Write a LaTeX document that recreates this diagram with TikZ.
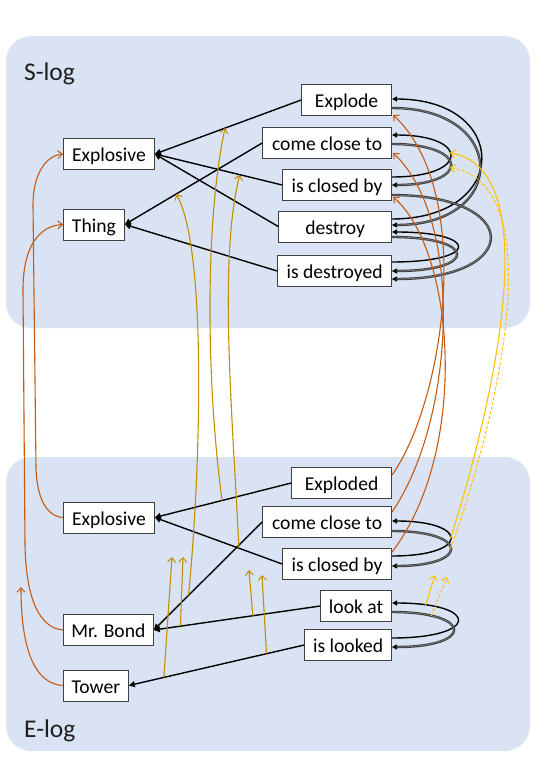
\documentclass[tikz,border=0pt]{standalone}
\usepackage{fontspec}
\setmainfont{Carlito}
\usetikzlibrary{arrows.meta,calc}
\definecolor{panel}{HTML}{DAE3F3}
\definecolor{rust}{HTML}{C55A11}
\definecolor{gold}{HTML}{BF9000}
\definecolor{amber}{HTML}{FFC000}
\begin{document}
\begin{tikzpicture}[x=1pt,y=-1pt,
  box/.style={draw=black!75,line width=0.8pt,fill=white,minimum height=31pt,inner sep=0pt,
    text height=16pt,text depth=1pt,font=\fontsize{19.6}{22}\selectfont},
  lab/.style={anchor=base west,inner sep=0pt,text=black!88,font=\fontsize{25.5}{28}\selectfont},
  edge/.style={line width=1.4pt,-{Triangle[length=6pt,width=6pt]}},
  blk/.style={line width=1.4pt,-{Triangle[length=5pt,width=5pt]}},
  gry/.style={draw=black!78,line width=2.4pt,-{Triangle[length=5pt,width=5pt,line width=0.4pt,color=black]},
    postaction={draw=black!52,line width=0.8pt,-,shorten >=4pt}},
  opentip/.style={-{Straight Barb[length=4.5pt,width=8pt,line width=1pt]}},
  rst/.style={draw=rust,line width=1.1pt,opentip},
  gld/.style={draw=gold,line width=1.1pt,opentip},
  ylw/.style={draw=amber,line width=1.1pt,opentip},
  ydash/.style={draw=amber,line width=1pt,dash pattern=on 3pt off 2pt,opentip}
]
\useasboundingbox (0,0) rectangle (545,779);
% panels
\fill[panel,rounded corners=25pt] (6,36) rectangle (530,328);
\fill[panel,rounded corners=25pt] (6,457) rectangle (530,751);
\node[lab] (slog) at (24,80) {S-log};
\node[lab] (elog) at (24,737) {E-log};

% nodes (S-log)
\node[box,minimum width=90pt,anchor=east] (sExpl) at (392,100) {Explode};
\node[box,minimum width=129pt,anchor=east] (sCct) at (392,143) {come close to};
\node[box,minimum width=109pt,anchor=east] (sIcb) at (392,185) {is closed by};
\node[box,minimum width=113pt,anchor=east] (sDes) at (392,226.5) {destroy};
\node[box,minimum width=114pt,anchor=east] (sIsd) at (392,271) {is destroyed};
\node[box,minimum width=91pt,anchor=west] (sExp) at (63,154) {Explosive};
\node[box,minimum width=61pt,anchor=west] (sThing) at (63,224.5) {Thing};
% nodes (E-log)
\node[box,minimum width=100pt,anchor=east] (eExpd) at (392,483) {Exploded};
\node[box,minimum width=129pt,anchor=east] (eCct) at (392,522) {come close to};
\node[box,minimum width=109pt,anchor=east] (eIcb) at (392,564) {is closed by};
\node[box,minimum width=71pt,anchor=east] (eLook) at (392,606) {look at};
\node[box,minimum width=87pt,anchor=east] (eIsl) at (392,645) {is looked};
\node[box,minimum width=91pt,anchor=west] (eExp) at (63,517.5) {Explosive};
\node[box,minimum width=90pt,anchor=west] (eBond) at (63,630) {Mr. Bond};
\node[box,minimum width=65pt,anchor=west] (eTower) at (63,685.5) {Tower};

% black edges S-log
\draw[edge] (sExpl.west) -- (sExp.east) coordinate[pos=0.52] (g2e);
\draw[edge] (sIcb.west) -- (sExp.east) coordinate[pos=0.333] (g3e);
\draw[edge] (sDes.west) -- (sExp.east);
\draw[edge] (sCct.west) -- (sThing.east) coordinate[pos=0.626] (g1e);
\draw[edge] (sIsd.west) -- (sThing.east);
% black edges E-log
\draw[edge] (eExpd.west) -- (eExp.east) coordinate[pos=0.507] (g2s);
\draw[edge] (eIcb.west) -- (eExp.east) coordinate[pos=0.34] (g3s);
\draw[edge] (eCct.west) -- (eBond.east) coordinate[pos=0.68] (g1s);
\draw[edge] (eLook.west) -- (eBond.east) coordinate[pos=0.84] (g5s) coordinate[pos=0.405] (g6s);
\draw[edge] (eIsl.west) -- (eTower.east) coordinate[pos=0.80] (g4s) coordinate[pos=0.215] (g7s);

% arcs S-log
\draw[blk] ($(sIcb.east)+(0,-8)$) .. controls +(78,0) and +(78,0) .. ($(sCct.east)+(0,-8)$) coordinate[pos=0.55] (y1e);
\draw[gry] ($(sCct.east)+(0,1)$) .. controls +(78,0) and +(78,0) .. ($(sIcb.east)+(0,0)$) coordinate[pos=0.55] (y2e);
\draw[blk] ($(sDes.east)+(0,-7.5)$) .. controls +(119,0) and +(119,0) .. ($(sExpl.east)+(0,-1)$);
\draw[gry] ($(sExpl.east)+(0,8)$) .. controls +(117,0) and +(117,0) .. ($(sDes.east)+(0,-1.5)$);
\draw[blk] ($(sIsd.east)+(0,-9)$) .. controls +(88,0) and +(88,0) .. ($(sDes.east)+(0,5.5)$);
\draw[gry] ($(sDes.east)+(0,10.5)$) .. controls +(86,0) and +(86,0) .. ($(sIsd.east)+(0,0)$);
\draw[gry] ($(sIcb.east)+(0,10)$) .. controls +(131,0) and +(131,0) .. ($(sIsd.east)+(0,8)$);
% arcs E-log
\draw[blk] ($(eIcb.east)+(0,-8)$) .. controls +(78,0) and +(78,0) .. ($(eCct.east)+(0,-1)$) coordinate[pos=0.5] (y1s);
\draw[gry] ($(eCct.east)+(0,9)$) .. controls +(78,0) and +(78,0) .. ($(eIcb.east)+(0,2)$) coordinate[pos=0.5] (y2s);
\draw[blk] ($(eIsl.east)+(0,-7)$) .. controls +(88,0) and +(88,0) .. ($(eLook.east)+(0,-3)$) coordinate[pos=0.85] (y3s);
\draw[gry] ($(eLook.east)+(0,6)$) .. controls +(82,0) and +(82,0) .. ($(eIsl.east)+(0,2)$) coordinate[pos=0.2] (y4s);

% free ends
\coordinate (towerTip) at (21,587);
\coordinate (g4t) at (172,557);
\coordinate (g5t) at (183,557);
\coordinate (g6t) at (249,570);
\coordinate (g7t) at (262,575);
\coordinate (y3t) at (435,575);
\coordinate (y4t) at (447,577);

% orange links
\draw[rst] (eExp.west) .. controls (46,516) and (37,498) .. (36,468) -- (33,205) .. controls (33,175) and (45,156) .. (sExp.west);
\draw[rst] (eBond.west) .. controls (40,628) and (26,600) .. (25,545) -- (23,290) .. controls (23,245) and (40,226) .. (sThing.west);
\draw[rst] (eTower.west) .. controls (35,684) and (21,650) .. (towerTip);
\draw[rst] ($(eExpd.north east)+(0,8)$) .. controls (445,400) and (475,190) .. ($(sExpl.south east)+(1,-1)$);
\draw[rst] ($(eCct.north east)+(0,6)$) .. controls (455,420) and (465,220) .. ($(sCct.south east)+(1,-6)$);
\draw[rst] ($(eIcb.north east)+(0,4)$) .. controls (470,450) and (455,250) .. ($(sIcb.south east)+(1,-4)$);

% gold links
\draw[gld] (g1s) .. controls (200,480) and (208,250) .. (g1e);
\draw[gld] (g2s) .. controls (206,380) and (205,220) .. (g2e);
\draw[gld] (g3s) .. controls (233,420) and (218,260) .. (g3e);
\draw[gld] (g4s) -- (g4t);
\draw[gld] (g5s) -- (g5t);
\draw[gld] (g6s) -- (g6t);
\draw[gld] (g7s) -- (g7t);

% yellow links
\draw[ylw] (y1s) .. controls (482,440) and (555,170) .. (y1e);
\draw[ydash] (y2s) .. controls (487,450) and (560,185) .. (y2e);
\draw[ylw] (y3s) -- (y3t);
\draw[ydash] (y4s) -- (y4t);
\end{tikzpicture}
\end{document}
